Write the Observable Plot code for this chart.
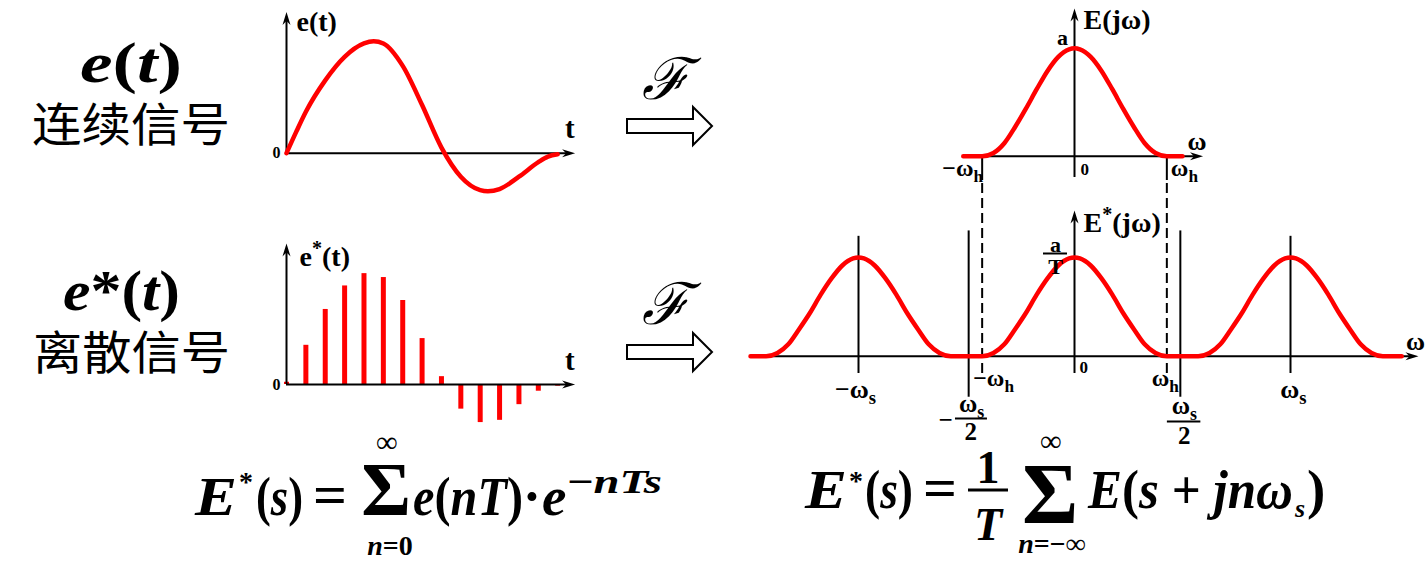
<!DOCTYPE html>
<html><head><meta charset="utf-8">
<script src="https://cdn.jsdelivr.net/npm/d3@7"></script>
<script src="https://cdn.jsdelivr.net/npm/@observablehq/plot@0.6"></script>
<style>
html,body{margin:0;padding:0;background:#fff;}
#root{position:relative;width:1428px;height:565px;overflow:hidden;background:#fff;}
</style></head><body><div id="root"></div>
<script>
// ================= data =================
// continuous signal e(t); t in sampling periods, e relative to its peak
const tCont = [0, 0.5, 1, 2, 3, 4, 4.5, 5, 6, 7, 8, 9, 10, 10.4, 11, 12, 13, 13.5, 14];
const eCont = [0, 0.19, 0.37, 0.65, 0.86, 0.98, 1.0, 0.98, 0.78, 0.43, 0.05, -0.21, -0.33, -0.34, -0.32, -0.21, -0.08, -0.03, -0.01];
// sampled signal e*(t)
const nSamp = [0, 1, 2, 3, 4, 5, 6, 7, 8, 9, 10, 11, 12, 13, 14];
const eSamp = [0.02, 0.35, 0.67, 0.88, 0.99, 0.955, 0.75, 0.41, 0.07, -0.22, -0.34, -0.32, -0.18, -0.06, -0.015];
// spectrum of e(t): one bell, ω in units where ωs = 2
const wBell = [-0.855, -0.75, -0.65, -0.55, -0.45, -0.35, -0.25, -0.15, -0.05, 0, 0.05, 0.15, 0.25, 0.35, 0.45, 0.55, 0.65, 0.75, 0.855];
const eBell = [0, 0.03, 0.12, 0.27, 0.44, 0.62, 0.79, 0.92, 0.99, 1, 0.99, 0.92, 0.79, 0.62, 0.44, 0.27, 0.12, 0.03, 0];
// spectrum of e*(t): bell of height a/T repeated at n·ωs
const eBellSampled = [0, 0.03, 0.11, 0.25, 0.40, 0.57, 0.72, 0.84, 0.905, 0.914, 0.905, 0.84, 0.72, 0.57, 0.40, 0.25, 0.11, 0.03, 0];
const replicaCenters = [-2, 0, 2];
const topSpanEnds = [-1.03, 1.0];
const botSpanEnds = [-3.0, 3.03];
const omegaH = 0.855, omegaS = 2, halfS = 0.98;
// texts
const signalSymbols = ["e(t)", "e*(t)"];
const signalNames = ["连续信号", "离散信号"];
const leftAxisLabels = ["e(t)", "e^*(t)"];
const topTicks = ["−ω_h", "0", "ω_h"];
const botTicks = ["−ω_s", "−ω_h", "0", "ω_h", "ω_s"];

// ================= helpers =================
const SERIF = "'Liberation Serif','Times New Roman',serif";
const RED = "#ff0000";
const root = document.getElementById("root");
const arrowHead = {draw(ctx) { ctx.moveTo(0, 0); ctx.lineTo(-13, -4); ctx.lineTo(-9, 0); ctx.lineTo(-13, 4); ctx.closePath(); }};
const arrow = (x, y, rotate = 0) => Plot.dot([{x, y}], {x: "x", y: "y", symbol: arrowHead, fill: "#000", stroke: "none", rotate});
const lab = (x, y, text, o = {}) => Plot.text([{x, y, text}], {x: "x", y: "y", text: "text", fontFamily: SERIF, fontWeight: "bold", fill: "#000", lineAnchor: "middle", ...o});

function rich(svg) {
  svg.querySelectorAll("text").forEach(t => {
    const s = t.textContent;
    if (!/[_^]/.test(s)) return;
    const fs = parseFloat(getComputedStyle(t).fontSize) || 20;
    t.textContent = "";
    let shift = 0, m;
    const re = /([_^])(.)|([^_^]+)/g;
    while ((m = re.exec(s))) {
      const ts = document.createElementNS("http://www.w3.org/2000/svg", "tspan");
      let target = 0;
      if (m[1]) {
        target = m[1] === "_" ? 0.25 * fs : -0.4 * fs;
        ts.setAttribute("font-size", (0.72 * fs) + "px");
        ts.textContent = m[2];
      } else ts.textContent = m[3];
      ts.setAttribute("dy", target - shift);
      shift = target;
      t.appendChild(ts);
    }
  });
}
function place(el, left, top) {
  el.style.position = "absolute"; el.style.left = left + "px"; el.style.top = top + "px";
  root.appendChild(el); rich(el);
}
const style = {background: "transparent", overflow: "visible"};

// ================= overlay text (titles, arrows, formulas) =================
const ov = d3.create("svg").attr("width", 1428).attr("height", 565)
  .attr("font-family", SERIF).attr("font-weight", "bold");
ov.html(`
<text x="80" y="82" font-size="56" textLength="102" lengthAdjust="spacingAndGlyphs"><tspan font-style="italic">${signalSymbols[0][0]}</tspan>(<tspan font-style="italic">t</tspan>)</text>
<text x="32" y="141" font-size="46" font-weight="normal" font-family="'Noto Sans CJK SC',sans-serif" textLength="198" lengthAdjust="spacingAndGlyphs">${signalNames[0]}</text>
<text x="63" y="310" font-size="56" textLength="117" lengthAdjust="spacingAndGlyphs"><tspan font-style="italic">e</tspan>*(<tspan font-style="italic">t</tspan>)</text>
<text x="33" y="369" font-size="46" font-weight="normal" font-family="'Noto Sans CJK SC',sans-serif" textLength="197" lengthAdjust="spacingAndGlyphs">${signalNames[1]}</text>

<text x="666" y="99" font-size="58" font-weight="normal" text-anchor="middle" font-family="'DejaVu Serif',serif" font-style="italic">ℱ</text>
<path d="M627,119 H693 V107 L712,126 L693,145 V133 H627 Z" fill="#fff" stroke="#000" stroke-width="2"/>
<text x="666" y="324" font-size="58" font-weight="normal" text-anchor="middle" font-family="'DejaVu Serif',serif" font-style="italic">ℱ</text>
<path d="M627,345 H693 V333 L712,352 L693,371 V359 H627 Z" fill="#fff" stroke="#000" stroke-width="2"/>

<g font-size="55">
<text x="195" y="515" font-style="italic" textLength="42" lengthAdjust="spacingAndGlyphs">E</text>
<text x="239" y="491" font-size="28">*</text>
<text x="256" y="515" textLength="47" lengthAdjust="spacingAndGlyphs">(<tspan font-style="italic">s</tspan>)</text>
<text x="313" y="513" textLength="34" lengthAdjust="spacingAndGlyphs">=</text>
<text x="386" y="515" font-size="76" text-anchor="middle">Σ</text>
<text x="387" y="452" font-size="30" text-anchor="middle">∞</text>
<text x="390" y="555" font-size="28" text-anchor="middle"><tspan font-style="italic">n</tspan>=0</text>
<text x="413" y="515" textLength="110" lengthAdjust="spacingAndGlyphs"><tspan font-style="italic">e</tspan>(<tspan font-style="italic">nT</tspan>)</text>
<text x="532" y="515" text-anchor="middle">·</text>
<text x="542" y="515" font-style="italic">e</text>
<text x="567" y="493" font-size="34" textLength="95" lengthAdjust="spacingAndGlyphs">−<tspan font-style="italic">nTs</tspan></text>

<text x="805" y="508" font-style="italic" textLength="42" lengthAdjust="spacingAndGlyphs">E</text>
<text x="849" y="490" font-size="28">*</text>
<text x="865" y="508" textLength="48" lengthAdjust="spacingAndGlyphs">(<tspan font-style="italic">s</tspan>)</text>
<text x="923" y="506" textLength="34" lengthAdjust="spacingAndGlyphs">=</text>
<text x="988" y="483" font-size="46" text-anchor="middle">1</text>
<line x1="968" x2="1008" y1="490" y2="490" stroke="#000" stroke-width="3"/>
<text x="988" y="540" font-size="46" font-style="italic" text-anchor="middle">T</text>
<text x="1050" y="523" font-size="86" text-anchor="middle">Σ</text>
<text x="1051" y="451" font-size="30" text-anchor="middle">∞</text>
<text x="1052" y="553" font-size="28" text-anchor="middle"><tspan font-style="italic">n</tspan>=−∞</text>
<text x="1088" y="508" textLength="205" lengthAdjust="spacingAndGlyphs"><tspan font-style="italic">E</tspan>(<tspan font-style="italic">s</tspan> + <tspan font-style="italic">jnω</tspan></text>
<text x="1295" y="517" font-size="26" font-style="italic">s</text>
<text x="1307" y="508">)</text>
</g>
`);
ov.node().style.position = "absolute"; ov.node().style.left = "0px"; ov.node().style.top = "0px";
root.appendChild(ov.node());

// ================= left plots: e(t) and e*(t) =================
const LW = 340, LH = 200, L0 = 36, pxT = 19.37, pxE = 112, xTip = 14.9, yTip = 1.26;
function sigPlot(base, marks) {
  return Plot.plot({
    width: LW, height: LH, margin: 0, style,
    x: {domain: [-L0 / pxT, (LW - L0) / pxT], axis: null},
    y: {domain: [-(LH - base) / pxE, base / pxE], axis: null},
    marks
  });
}
const axesLeft = [
  Plot.ruleY([0], {x1: 0, x2: xTip - 0.4, stroke: "#000", strokeWidth: 2}),
  Plot.ruleX([0], {y1: 0, y2: yTip - 0.05, stroke: "#000", strokeWidth: 2}),
  arrow(xTip, 0, 0), arrow(0, yTip, -90),
  lab(xTip, 0, "t", {dx: -10, dy: -24, fontSize: 29, textAnchor: "start"}),
  lab(0, 0, "0", {dx: -10, dy: 0, fontSize: 16})
];
const contData = tCont.map((t, i) => ({t, e: eCont[i]}));
place(sigPlot(152.7, [
  ...axesLeft,
  Plot.line(contData, {x: "t", y: "e", stroke: RED, strokeWidth: 4.5, curve: "monotone-x"}),
  lab(0, yTip, leftAxisLabels[0], {dx: 10, dy: 10, fontSize: 28, textAnchor: "start"})
]), 250, 0);

const sampData = nSamp.map((n, i) => ({n, e: eSamp[i]}));
place(sigPlot(154, [
  Plot.ruleX(sampData, {x: "n", y1: 0, y2: "e", stroke: RED, strokeWidth: 5}),
  ...axesLeft,
  lab(0, yTip, leftAxisLabels[1], {dx: 13, dy: 14, fontSize: 28, textAnchor: "start"})
]), 250, 230);

// ================= right plot: spectra =================
const RW = 688, RH = 450, R0 = 334, pxW = 108, pxS = 108, RBase = 355.7, topBase = 200 / 108;
const topSpec = [{w: topSpanEnds[0], E: 0}, ...wBell.map((w, i) => ({w, E: eBell[i]})), {w: topSpanEnds[1], E: 0}];
const botSpec = [{w: botSpanEnds[0], E: 0},
  ...replicaCenters.flatMap(c => wBell.map((w, i) => ({w: c + w, E: eBellSampled[i]}))),
  {w: botSpanEnds[1], E: 0}];
const aT = eBellSampled[9];
const K = {stroke: "#000", strokeWidth: 2};
place(Plot.plot({
  width: RW, height: RH, margin: 0, style,
  x: {domain: [-R0 / pxW, (RW - R0) / pxW], axis: null},
  y: {domain: [-(RH - RBase) / pxS, RBase / pxS], axis: null},
  marks: [
    // top panel axes
    Plot.ruleY([topBase], {x1: -1.03, x2: 1.12, ...K}),
    arrow(1.19, topBase, 0),
    Plot.ruleX([0], {y1: topBase - 0.197, y2: topBase + 1.32, ...K}),
    arrow(0, topBase + 1.368, -90),
    Plot.ruleX([-omegaH, omegaH], {y1: topBase - 0.225, y2: topBase, ...K}),
    Plot.ruleX([-omegaH, omegaH], {y1: -0.16, y2: topBase - 0.225, ...K, strokeDasharray: "10,5"}),
    // bottom panel axes
    Plot.ruleY([0], {x1: botSpanEnds[0], x2: 3.11, ...K}),
    arrow(3.185, 0, 0),
    Plot.ruleX([0], {y1: -0.16, y2: 1.30, ...K}),
    arrow(0, 1.35, -90),
    Plot.ruleX([-omegaS, omegaS], {y1: -0.16, y2: 1.11, ...K}),
    Plot.ruleX([-halfS, halfS], {y1: -0.38, y2: 1.16, ...K}),
    // spectra
    Plot.line(topSpec, {x: "w", y: d => d.E + topBase, stroke: RED, strokeWidth: 4.5, curve: "monotone-x"}),
    Plot.line(botSpec, {x: "w", y: "E", stroke: RED, strokeWidth: 4.5, curve: "monotone-x"}),
    // top labels
    lab(0, topBase + 1.368, "E(jω)", {textAnchor: "start", dx: 9, dy: 12, fontSize: 28}),
    lab(0, topBase + 1, "a", {dx: -12, dy: -10, fontSize: 22}),
    lab(1.19, topBase, "ω", {dx: -6, dy: -15, fontSize: 26}),
    lab(-omegaH, topBase, topTicks[0], {textAnchor: "end", dx: 1, dy: 12, fontSize: 24}),
    lab(0, topBase, topTicks[1], {textAnchor: "start", dx: 6, dy: 13, fontSize: 17}),
    lab(omegaH, topBase, topTicks[2], {textAnchor: "start", dx: 4, dy: 12, fontSize: 24}),
    // bottom labels
    lab(0, 1.35, "E^*(jω)", {textAnchor: "start", dx: 9, dy: 13, fontSize: 28}),
    lab(0, aT, "a", {dx: -19, dy: -13, fontSize: 22}),
    Plot.ruleY([aT + 0.037], {x1: -0.287, x2: -0.065, ...K}),
    lab(0, aT, "T", {dx: -19, dy: 9, fontSize: 22}),
    lab(3.185, 0, "ω", {dx: -3, dy: -15, fontSize: 26}),
    lab(-omegaS, 0, botTicks[0], {dx: -3, dy: 33, fontSize: 26}),
    lab(-omegaH, 0, botTicks[1], {textAnchor: "start", dx: -9, dy: 22, fontSize: 24}),
    lab(0, 0, botTicks[2], {textAnchor: "start", dx: 5, dy: 11, fontSize: 17}),
    lab(omegaH, 0, botTicks[3], {textAnchor: "end", dx: 12, dy: 22, fontSize: 24}),
    lab(omegaS, 0, botTicks[4], {dx: 3, dy: 33, fontSize: 26}),
    // ±ωs/2 fractions
    lab(-halfS, 0, "ω_s", {dx: 3, dy: 48, fontSize: 25}),
    Plot.ruleY([-0.577], {x1: -halfS - 0.122, x2: -halfS + 0.174, ...K}),
    lab(-halfS, 0, "2", {dx: 2, dy: 76, fontSize: 25}),
    lab(-halfS, 0, "−", {dx: -23, dy: 64, fontSize: 25}),
    lab(halfS, 0, "ω_s", {dx: 4, dy: 50, fontSize: 25}),
    Plot.ruleY([-0.605], {x1: halfS - 0.12, x2: halfS + 0.19, ...K}),
    lab(halfS, 0, "2", {dx: 4, dy: 80, fontSize: 25})
  ]
}), 740, 0);
</script></body></html>
